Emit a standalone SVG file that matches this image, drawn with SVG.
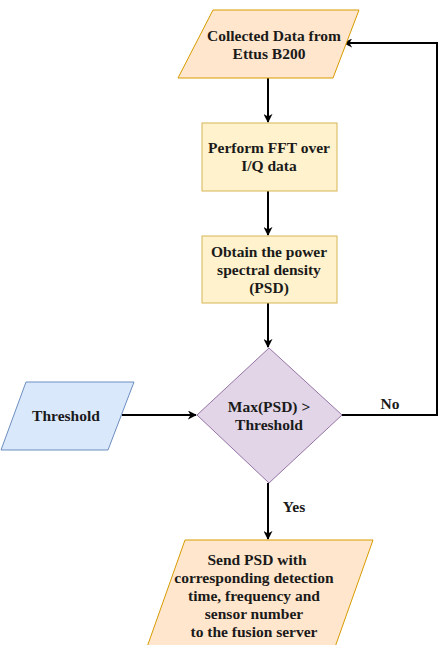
<svg xmlns="http://www.w3.org/2000/svg" width="444" height="645" viewBox="0 0 444 645">
<style>
.t{font-weight:bold;font-size:15.5px;fill:#1a1a1a;text-anchor:middle}
.l{fill:none;stroke:#000;stroke-width:2}
.or{fill:#ffe6cc;stroke:#d79b00;stroke-width:1}
.ye{fill:#fff2cc;stroke:#d6b656;stroke-width:1}
.pu{fill:#e1d5e7;stroke:#9673a6;stroke-width:1}
.bl{fill:#dae8fc;stroke:#6c8ebf;stroke-width:1}
</style>
<defs>
<marker id="a" viewBox="0 0 10 10" refX="9" refY="5" markerWidth="9" markerHeight="9" markerUnits="userSpaceOnUse" orient="auto">
<path d="M0,0 L10,5 L0,10 L3,5 Z" fill="#000"/>
</marker>
</defs>
<rect width="444" height="645" fill="#fff"/>
<g id="connectors">
<path class="l" d="M268,78 V122" marker-end="url(#a)"/>
<path class="l" d="M268,191 V235" marker-end="url(#a)"/>
<path class="l" d="M268,303 V347" marker-end="url(#a)"/>
<path class="l" d="M122,415 H196" marker-end="url(#a)"/>
<path class="l" d="M342,415 H437 V43 H344" marker-end="url(#a)"/>
<path class="l" d="M268,483 V539" marker-end="url(#a)"/>
</g>
<g font-family="Liberation Serif">
<g id="labels">
<text class="t" x="390" y="409">No</text>
<text class="t" x="294" y="512">Yes</text>
</g>
<g id="collect">
<polygon class="or" points="213,10 359,10 333,78 178,78"/>
<text class="t" x="274" y="41">Collected Data from</text>
<text class="t" x="269" y="59">Ettus B200</text>
</g>
<g id="fft">
<rect class="ye" x="202" y="123" width="135" height="68"/>
<text class="t" x="269" y="153">Perform FFT over</text>
<text class="t" x="269" y="171">I/Q data</text>
</g>
<g id="psd">
<rect class="ye" x="202" y="236" width="135" height="67"/>
<text class="t" x="269" y="257">Obtain the power</text>
<text class="t" x="269" y="275">spectral density</text>
<text class="t" x="269" y="293">(PSD)</text>
</g>
<g id="decision">
<polygon class="pu" points="269,348 342,415 269,483 197,415"/>
<text class="t" x="269" y="412">Max(PSD) &gt;</text>
<text class="t" x="269" y="430">Threshold</text>
</g>
<g id="threshold">
<polygon class="bl" points="26,382 134,382 108,450 1,450"/>
<text class="t" x="66" y="421">Threshold</text>
</g>
<g id="send">
<polygon class="or" points="185,540 373,540 334,650 146,650"/>
<text class="t" x="257" y="565">Send PSD with</text>
<text class="t" x="254" y="583">corresponding detection</text>
<text class="t" x="254" y="601">time, frequency and</text>
<text class="t" x="254" y="619">sensor number</text>
<text class="t" x="254" y="637">to the fusion server</text>
</g>
</g>
</svg>
